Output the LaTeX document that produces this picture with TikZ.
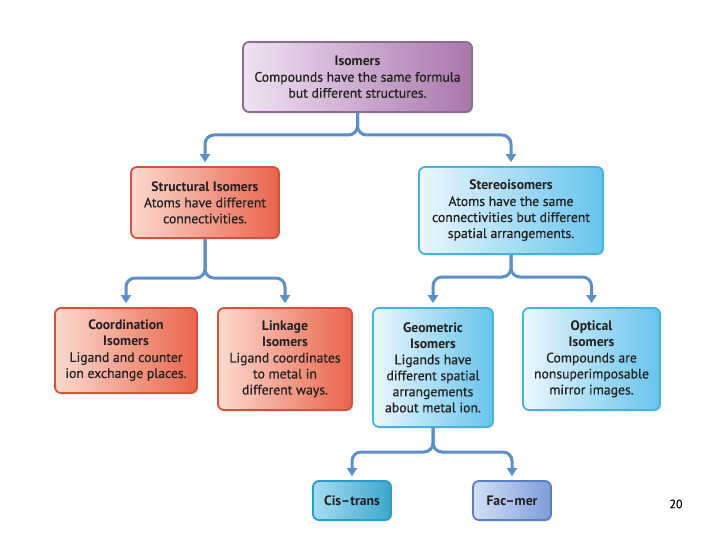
\documentclass[tikz,border=0pt]{standalone}
\usepackage{fontspec}
\setmainfont{PT Sans}[UprightFeatures={FakeBold=0.5}]
\usepackage{xcolor}
\usetikzlibrary{arrows.meta}
\usetikzlibrary{shadows}
\definecolor{txt}{HTML}{231F20}
\definecolor{conncol}{HTML}{5B8FC9}
\definecolor{isoleft}{HTML}{F0E2F3}
\definecolor{isoright}{HTML}{A877AC}
\definecolor{isoline}{HTML}{8E6A92}
\definecolor{redleft}{HTML}{FBD9CD}
\definecolor{redright}{HTML}{E9644C}
\definecolor{redline}{HTML}{D8503A}
\definecolor{blueleft}{HTML}{EBF7FD}
\definecolor{blueright}{HTML}{66C4EC}
\definecolor{blueline}{HTML}{45B2E0}
\definecolor{cisleft}{HTML}{A6DDF2}
\definecolor{cisright}{HTML}{3CA6CE}
\definecolor{cisline}{HTML}{2A9CC8}
\definecolor{facleft}{HTML}{D4E1F6}
\definecolor{facright}{HTML}{7C9CD8}
\definecolor{facline}{HTML}{5A7EC4}
\tikzset{
  box/.style={rectangle,rounded corners=6pt,line width=1.8pt,align=center,inner sep=2pt,
    text=txt,font=\fontsize{13.7}{16}\selectfont,
    drop shadow={opacity=0.2,shadow xshift=1pt,shadow yshift=-1.5pt}},
  isobox/.style={box,draw=isoline,left color=isoleft,right color=isoright},
  redbox/.style={box,draw=redline,left color=redleft,right color=redright},
  bluebox/.style={box,draw=blueline,left color=blueleft,right color=blueright},
  cisbox/.style={box,draw=cisline,left color=cisleft,right color=cisright},
  facbox/.style={box,draw=facline,left color=facleft,right color=facright},
  conn/.style={draw=conncol,line width=3pt,rounded corners=9pt,shorten >=4pt,
    -{Triangle[width=10pt,length=8pt]}}
}

\begin{document}
\begin{tikzpicture}[x=1pt,y=-1pt]
 \useasboundingbox[fill=white] (0,0) rectangle (720,540);
 \node[isobox,minimum width=229,minimum height=70] (iso) at (357.5,77) {\textbf{Isomers}\\Compounds have the same formula\\but different structures.};
 \node[redbox,minimum width=148,minimum height=71] (struct) at (205,202.5) {\textbf{Structural Isomers}\\Atoms have different\\connectivities.};
 \node[bluebox,minimum width=184,minimum height=87] (stereo) at (511,210.5) {\textbf{Stereoisomers}\\Atoms have the same\\connectivities but different\\spatial arrangements.};
 \node[redbox,minimum width=142,minimum height=85] (coord) at (126,350.5) {\textbf{Coordination}\\\textbf{Isomers}\\Ligand and counter\\ion exchange places.};
 \node[redbox,minimum width=134,minimum height=102] (link) at (285,359) {\textbf{Linkage}\\\textbf{Isomers}\\Ligand coordinates\\to metal in\\different ways.};
 \node[bluebox,minimum width=120,minimum height=119] (geo) at (433,367.5) {\textbf{Geometric}\\\textbf{Isomers}\\Ligands have\\different spatial\\arrangements\\about metal ion.};
 \node[bluebox,minimum width=137,minimum height=102] (opt) at (591.5,359) {\textbf{Optical}\\\textbf{Isomers}\\Compounds are\\nonsuperimposable\\mirror images.};
 \node[cisbox,minimum width=78,minimum height=39] (cis) at (352,500.5) {\textbf{Cis–trans}};
 \node[facbox,minimum width=78,minimum height=39] (fac) at (512,500.5) {\textbf{Fac–mer}};
 \node[font=\fontsize{12}{14}\selectfont] (pagenum) at (676,504) {20};

 \coordinate (split1) at (357.5,135);
 \coordinate (split2) at (205,278);
 \coordinate (split3) at (511,277);
 \coordinate (split4) at (433,452);
 \draw[conn] (iso.south) -- (split1) -| (struct.north);
 \draw[conn] (iso.south) -- (split1) -| (stereo.north);
 \draw[conn] (struct.south) -- (split2) -| (coord.north);
 \draw[conn] (struct.south) -- (split2) -| (link.north);
 \draw[conn] (stereo.south) -- (split3) -| (geo.north);
 \draw[conn] (stereo.south) -- (split3) -| (opt.north);
 \draw[conn] (geo.south) -- (split4) -| (cis.north);
 \draw[conn] (geo.south) -- (split4) -| (fac.north);

\end{tikzpicture}
\end{document}
